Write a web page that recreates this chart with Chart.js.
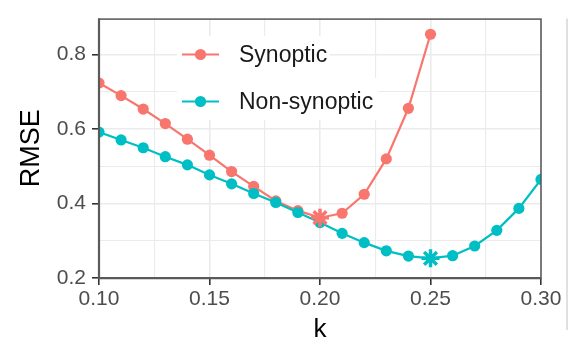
<!DOCTYPE html>
<html>
<head>
<meta charset="utf-8">
<script src="https://cdn.jsdelivr.net/npm/chart.js@4/dist/chart.umd.min.js"></script>
<style>
  html, body { margin: 0; padding: 0; background: #fff; }
  canvas { display: block; }
</style>
</head>
<body>
<canvas id="c" width="570" height="341"></canvas>
<script>
// k values and RMSE for each model
const synopticK = [0.10, 0.11, 0.12, 0.13, 0.14, 0.15, 0.16, 0.17, 0.18, 0.19, 0.20, 0.21, 0.22, 0.23, 0.24, 0.25];
const synopticRmse = [0.724, 0.690, 0.654, 0.615, 0.573, 0.530, 0.486, 0.446, 0.407, 0.381, 0.362, 0.374, 0.425, 0.520, 0.656, 0.855];

const nonSynopticK = [0.10, 0.11, 0.12, 0.13, 0.14, 0.15, 0.16, 0.17, 0.18, 0.19, 0.20, 0.21, 0.22, 0.23, 0.24, 0.25, 0.26, 0.27, 0.28, 0.29, 0.30];
const nonSynopticRmse = [0.592, 0.571, 0.550, 0.526, 0.504, 0.477, 0.453, 0.427, 0.403, 0.376, 0.349, 0.320, 0.295, 0.273, 0.259, 0.253, 0.260, 0.286, 0.328, 0.387, 0.465];

// k with the lowest RMSE for each model (drawn as asterisks)
const bestSynopticK = 0.20;
const bestNonSynopticK = 0.25;

// axis ticks: major ones are labelled, minor ones only get a grid line
const xMajorTicks = [0.10, 0.15, 0.20, 0.25, 0.30];
const xMinorTicks = [0.125, 0.175, 0.225, 0.275];
const yMajorTicks = [0.2, 0.4, 0.6, 0.8];
const yMinorTicks = [0.3, 0.5, 0.7];

const seriesNames = ['Synoptic', 'Non-synoptic'];

const RED = '#F8766D';
const CYAN = '#00BFC4';
const FONT = "'Liberation Sans', Arial, sans-serif";

const toPoints = (ks, vals) => ks.map((k, i) => ({ x: k, y: vals[i] }));
const isBest = (ks, best) => ks.map(k => Math.abs(k - best) < 1e-9);
const synBest = isBest(synopticK, bestSynopticK);
const nonBest = isBest(nonSynopticK, bestNonSynopticK);
const bestPoint = (ks, vals, best) => {
  const i = ks.findIndex(k => Math.abs(k - best) < 1e-9);
  return [{ x: ks[i], y: vals[i] }];
};

const allTicks = (major, minor) => major.concat(minor).sort((a, b) => a - b);
const isMajor = (major, v) => major.some(m => Math.abs(m - v) < 1e-9);

// panel border, legend and neighbouring panel edge
const panelPlugin = {
  id: 'panel',
  afterDraw(chart) {
    const { ctx, chartArea: a } = chart;
    ctx.save();
    // border
    ctx.strokeStyle = '#555';
    ctx.lineWidth = 1.5;
    ctx.strokeRect(a.left, a.top + 0.5, a.right - a.left, a.bottom - a.top);
    ctx.lineWidth = 2.2;
    ctx.strokeStyle = '#5a5a5a';
    ctx.beginPath();
    ctx.moveTo(a.left, a.top);
    ctx.lineTo(a.left, a.bottom);
    ctx.lineTo(a.right, a.bottom);
    ctx.stroke();

    // edge of the next panel
    ctx.strokeStyle = '#d6d6d6';
    ctx.lineWidth = 1.5;
    ctx.beginPath();
    ctx.moveTo(567, a.top);
    ctx.lineTo(567, 330);
    ctx.stroke();

    // legend
    const rows = [
      { name: seriesNames[0], color: RED, y: 54.5, boxW: 153 },
      { name: seriesNames[1], color: CYAN, y: 101.5, boxW: 201 }
    ];
    const x0 = 177;
    ctx.fillStyle = '#fff';
    ctx.fillRect(x0, 36, rows[0].boxW, 42);
    ctx.fillRect(x0, 78, rows[1].boxW, 42);
    ctx.font = '23px ' + FONT;
    ctx.textBaseline = 'middle';
    ctx.textAlign = 'left';
    rows.forEach(r => {
      ctx.strokeStyle = r.color;
      ctx.lineWidth = 2.2;
      ctx.beginPath();
      ctx.moveTo(182, r.y);
      ctx.lineTo(219, r.y);
      ctx.stroke();
      ctx.fillStyle = r.color;
      ctx.beginPath();
      ctx.arc(200.5, r.y, 5.6, 0, Math.PI * 2);
      ctx.fill();
      ctx.fillStyle = '#1a1a1a';
      ctx.fillText(r.name, 239, r.y + 1);
    });
    ctx.restore();
  }
};

new Chart(document.getElementById('c'), {
  type: 'line',
  data: {
    datasets: [
      {
        label: 'best-synoptic',
        data: bestPoint(synopticK, synopticRmse, bestSynopticK),
        showLine: false,
        pointStyle: 'star',
        pointRadius: 9,
        pointBorderWidth: 3.5,
        borderColor: RED,
        backgroundColor: RED,
        order: 0
      },
      {
        label: 'best-non-synoptic',
        data: bestPoint(nonSynopticK, nonSynopticRmse, bestNonSynopticK),
        showLine: false,
        pointStyle: 'star',
        pointRadius: 9,
        pointBorderWidth: 3.5,
        borderColor: CYAN,
        backgroundColor: CYAN,
        order: 0
      },
      {
        label: seriesNames[1],
        data: toPoints(nonSynopticK, nonSynopticRmse),
        borderColor: CYAN,
        backgroundColor: CYAN,
        borderWidth: 2.2,
        pointRadius: c => nonBest[c.dataIndex] ? 0 : 5.6,
        pointBorderWidth: 0,
        tension: 0,
        order: 1
      },
      {
        label: seriesNames[0],
        data: toPoints(synopticK, synopticRmse),
        borderColor: RED,
        backgroundColor: RED,
        borderWidth: 2.2,
        pointRadius: c => synBest[c.dataIndex] ? 0 : 5.6,
        pointBorderWidth: 0,
        tension: 0,
        order: 2
      }
    ]
  },
  options: {
    responsive: false,
    animation: false,
    devicePixelRatio: 1,
    layout: { padding: { left: 0, right: 29, top: 14, bottom: 0 } },
    plugins: { legend: { display: false }, tooltip: { enabled: false } },
    scales: {
      x: {
        type: 'linear',
        min: 0.1,
        max: 0.3,
        afterBuildTicks: s => { s.ticks = allTicks(xMajorTicks, xMinorTicks).map(v => ({ value: v })); },
        afterFit: s => { s.height = 63; },
        border: { display: false },
        grid: {
          color: c => '#EBEBEB',
          lineWidth: c => (c.tick && isMajor(xMajorTicks, c.tick.value)) ? 1.6 : 1.1,
          drawTicks: true,
          tickLength: 7,
          tickWidth: 1.6,
          tickColor: c => (c.tick && isMajor(xMajorTicks, c.tick.value)) ? '#333' : 'rgba(0,0,0,0)'
        },
        ticks: {
          autoSkip: false,
          maxRotation: 0,
          padding: 2,
          color: '#4D4D4D',
          font: { family: FONT, size: 21 },
          callback: v => isMajor(xMajorTicks, v) ? v.toFixed(2) : ''
        },
        title: {
          display: true,
          text: 'k',
          color: '#000',
          font: { family: FONT, size: 26, lineHeight: 0.8 },
          padding: { top: 0, bottom: 0.5 }
        }
      },
      y: {
        type: 'linear',
        min: 0.2,
        max: 0.897,
        afterBuildTicks: s => { s.ticks = allTicks(yMajorTicks, yMinorTicks).map(v => ({ value: v })); },
        afterFit: s => { s.width = 99; },
        border: { display: false },
        grid: {
          color: c => '#EBEBEB',
          lineWidth: c => (c.tick && isMajor(yMajorTicks, c.tick.value)) ? 1.6 : 1.1,
          drawTicks: true,
          tickLength: 7,
          tickWidth: 1.6,
          tickColor: c => (c.tick && isMajor(yMajorTicks, c.tick.value)) ? '#333' : 'rgba(0,0,0,0)'
        },
        ticks: {
          autoSkip: false,
          padding: 6,
          color: '#4D4D4D',
          font: { family: FONT, size: 21 },
          callback: v => isMajor(yMajorTicks, v) ? v.toFixed(1) : ''
        },
        title: {
          display: true,
          text: 'RMSE',
          color: '#000',
          font: { family: FONT, size: 27, lineHeight: 1.2 },
          padding: { top: 15, bottom: 0 }
        }
      }
    }
  },
  plugins: [panelPlugin]
});
</script>
</body>
</html>
